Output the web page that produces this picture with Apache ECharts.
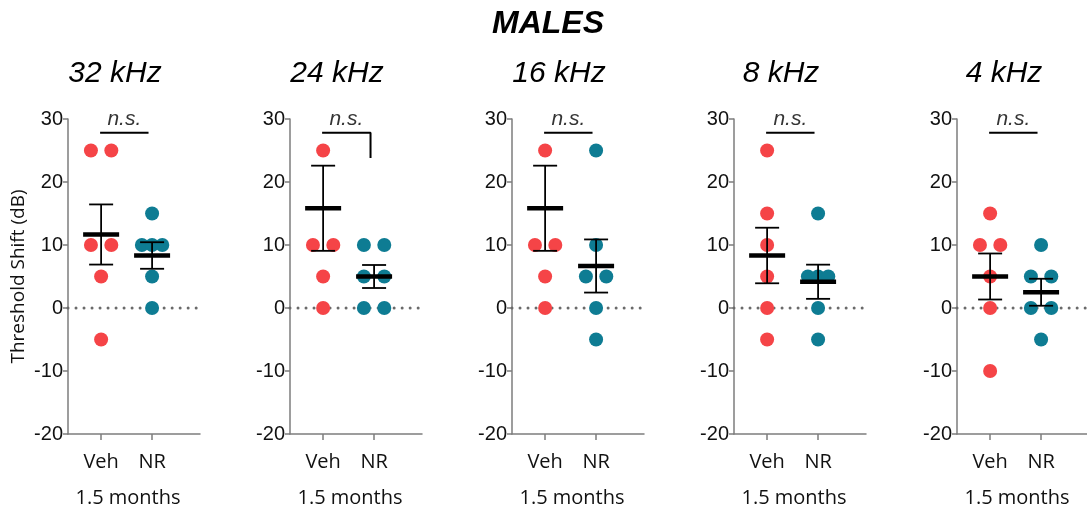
<!DOCTYPE html>
<html>
<head>
<meta charset="utf-8">
<script src="https://cdn.jsdelivr.net/npm/echarts@6/dist/echarts.min.js"></script>
<style>html,body{margin:0;padding:0;background:#fff}#c{width:1087px;height:511px}</style>
</head>
<body>
<div id="c"></div>
<script>
// ---- data ----
const mainTitle = 'MALES';
const panels = ['32 kHz', '24 kHz', '16 kHz', '8 kHz', '4 kHz'];
const groups = ['Veh', 'NR'];
const ageLabel = '1.5 months';
const yLabel = 'Threshold Shift (dB)';
const yTicks = [-20, -10, 0, 10, 20, 30];
// Threshold shifts (dB) per panel; values above 30 lie outside the axis (clipped)
const veh32 = [25, 25, 10, 10, 5, -5];
const nr32  = [15, 10, 10, 10, 5, 0];
const veh24 = [45, 25, 10, 10, 5, 0];
const nr24  = [10, 10, 5, 5, 0, 0];
const veh16 = [45, 25, 10, 10, 5, 0];
const nr16  = [25, 10, 5, 5, 0, -5];
const veh8  = [25, 15, 10, 5, 0, -5];
const nr8   = [15, 5, 5, 5, 0, -5];
const veh4  = [15, 10, 10, 5, 0, -10];
const nr4   = [10, 5, 5, 0, 0, -5];
const sigLabels = ['n.s.', 'n.s.', 'n.s.', 'n.s.', 'n.s.'];
const sigLevel = 27.8;
const sigDrop = [0, 4, 0, 0, 0]; // right leg drop of bracket (panel 2)

const vehSets = [veh32, veh24, veh16, veh8, veh4];
const nrSets = [nr32, nr24, nr16, nr8, nr4];

// ---- layout ----
const RED = '#F54447', TEAL = '#0E7C93';
const axisLefts = [68, 290, 512, 734, 957];
const gridTop = 119, gridH = 315, gridW = 132;
const XMIN = -0.65, XMAX = 1.94;
const SPREAD = 0.2;

function jitter(vals, cx) {
  const counts = {}, seen = {};
  vals.forEach(v => counts[v] = (counts[v] || 0) + 1);
  return vals.map(v => {
    const n = counts[v]; const k = seen[v] = (seen[v] === undefined ? 0 : seen[v] + 1);
    const off = n === 1 ? 0 : -SPREAD + 2 * SPREAD * k / (n - 1);
    return [cx + off, v];
  });
}
function stats(vals) {
  const n = vals.length, m = vals.reduce((a, b) => a + b, 0) / n;
  const sd = Math.sqrt(vals.reduce((a, b) => a + (b - m) * (b - m), 0) / (n - 1));
  return [m, sd / Math.sqrt(n)];
}

const AX = '#7d7d7d';
const grid = [], xAxis = [], yAxis = [], series = [], graphic = [];
panels.forEach((p, i) => {
  grid.push({left: axisLefts[i], top: gridTop, width: gridW, height: gridH, outerBoundsMode: 'none', containLabel: false});
  xAxis.push({
    type: 'value', gridIndex: i, min: XMIN, max: XMAX,
    splitLine: {show: false},
    axisLine: {show: true, onZero: false, lineStyle: {color: AX, width: 1.5}},
    axisTick: {show: true, length: 6, lineStyle: {color: AX, width: 1.5}, customValues: [0, 1]},
    axisLabel: {customValues: [0, 1], formatter: v => groups[Math.round(v)], margin: 18,
      fontFamily: 'Open Sans', fontSize: 20, color: '#111'}
  });
  yAxis.push({
    type: 'value', gridIndex: i, min: -20, max: 30, interval: 10,
    name: i === 0 ? yLabel : '', nameLocation: 'middle', nameGap: 40,
    nameTextStyle: {fontFamily: 'Open Sans', fontSize: 19, color: '#111'},
    splitLine: {show: false},
    axisLine: {show: true, onZero: false, lineStyle: {color: AX, width: 1.5}},
    axisTick: {show: true, length: 5, lineStyle: {color: AX, width: 1.5}},
    axisLabel: {fontFamily: 'Liberation Sans', fontSize: 20, color: '#111', margin: 5,
      formatter: v => yTicks.indexOf(v) >= 0 ? String(v) : ''}
  });
  // zero reference (dotted)
  series.push({
    type: 'line', xAxisIndex: i, yAxisIndex: i, data: [[XMIN, 0], [XMAX, 0]],
    symbol: 'none', silent: true, z: 1,
    lineStyle: {color: '#6a6a6a', width: 3, type: [0.01, 8], cap: 'round'}
  });
  const sets = [vehSets[i], nrSets[i]];
  const colors = [RED, TEAL];
  sets.forEach((vals, g) => {
    series.push({
      type: 'scatter', xAxisIndex: i, yAxisIndex: i, clip: true, z: 2,
      symbol: 'circle', symbolSize: 14, itemStyle: {color: colors[g], opacity: 1},
      data: jitter(vals, g)
    });
  });
  // mean +/- SEM
  const st = sets.map((vals, g) => { const s = stats(vals); return [g, s[0], s[0] - s[1], s[0] + s[1]]; });
  series.push({
    type: 'custom', xAxisIndex: i, yAxisIndex: i, z: 3, clip: false,
    data: st,
    renderItem: (params, api) => {
      const x = api.value(0), m = api.value(1), lo = api.value(2), hi = api.value(3);
      const pm = api.coord([x, m]), pl = api.coord([x, lo]), ph = api.coord([x, hi]);
      const st1 = {stroke: '#000', lineWidth: 1.8};
      return {type: 'group', children: [
        {type: 'line', shape: {x1: pl[0], y1: pl[1], x2: ph[0], y2: ph[1]}, style: st1},
        {type: 'line', shape: {x1: pl[0] - 12, y1: pl[1], x2: pl[0] + 12, y2: pl[1]}, style: st1},
        {type: 'line', shape: {x1: ph[0] - 12, y1: ph[1], x2: ph[0] + 12, y2: ph[1]}, style: st1},
        {type: 'line', shape: {x1: pm[0] - 18, y1: pm[1], x2: pm[0] + 18, y2: pm[1]}, style: {stroke: '#000', lineWidth: 4.5}}
      ]};
    }
  });
  // significance bracket
  const br = [[-0.02, sigLevel], [0.93, sigLevel]];
  if (sigDrop[i] > 0) br.push([0.93, sigLevel - sigDrop[i]]);
  series.push({
    type: 'line', xAxisIndex: i, yAxisIndex: i, data: br, symbol: 'none', silent: true, z: 3,
    lineStyle: {color: '#000', width: 2}
  });
  series.push({
    type: 'scatter', xAxisIndex: i, yAxisIndex: i, data: [[0.455, sigLevel]], symbolSize: 0, z: 3,
    label: {show: true, position: 'top', distance: 3, formatter: sigLabels[i],
      fontFamily: 'Liberation Sans', fontStyle: 'italic', fontSize: 21, color: '#000'}
  });
  graphic.push({type: 'text', x: axisLefts[i] + 47, y: 74, style: {text: p, textAlign: 'center', textVerticalAlign: 'middle',
    font: 'italic 30px "Liberation Sans"', fill: '#000'}});
  graphic.push({type: 'text', x: axisLefts[i] + 60, y: 498, style: {text: ageLabel, textAlign: 'center', textVerticalAlign: 'middle',
    font: '20px "Open Sans"', fill: '#111'}});
});
graphic.push({type: 'text', x: 548, y: 24, style: {text: mainTitle, textAlign: 'center', textVerticalAlign: 'middle',
  font: 'italic bold 32px "Liberation Sans"', fill: '#000'}});

const chart = echarts.init(document.getElementById('c'), null, {renderer: 'canvas'});
chart.setOption({animation: false, backgroundColor: '#fff', grid, xAxis, yAxis, series, graphic});
</script>
</body>
</html>
